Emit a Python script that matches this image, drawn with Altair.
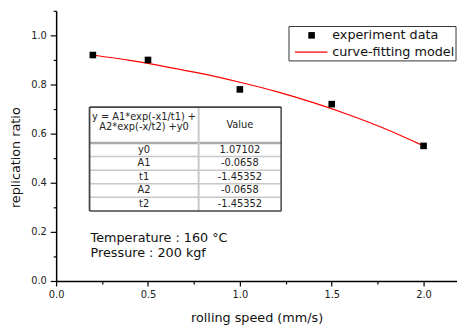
import altair as alt
import pandas as pd

FONT = "DejaVu Sans"

# experiment data
speed = [0.2, 0.5, 1.0, 1.5, 2.0]
ratio = [0.92, 0.90, 0.78, 0.72, 0.55]

# curve-fitting model
fit_x = [0.2, 0.4, 0.6, 0.8, 1.0, 1.2, 1.4, 1.6, 1.8, 2.0]
fit_y = [0.920, 0.898, 0.872, 0.843, 0.809, 0.771, 0.726, 0.675, 0.617, 0.550]

# parameter table
tbl_header = ["y = A1*exp(-x1/t1) +", "A2*exp(-x/t2) +y0"]
tbl_names = ["y0", "A1", "t1", "A2", "t2"]
tbl_values = ["1.07102", "-0.0658", "-1.45352", "-0.0658", "-1.45352"]

legend_labels = ["experiment data", "curve-fitting model"]
notes = ["Temperature : 160 \u00b0C", "Pressure : 200 kgf"]

W, H = 408, 275

xscale = alt.Scale(domain=[0, 2.182], nice=False, zero=False)
yscale = alt.Scale(domain=[0, 1.1], nice=False, zero=False)

xaxis = alt.Axis(
    values=[0, 0.25, 0.5, 0.75, 1.0, 1.25, 1.5, 1.75, 2.0],
    labelExpr="round(datum.value*4) % 2 == 0 ? format(datum.value, '.1f') : ''",
    tickSize={"condition": {"test": "round(datum.value*4) % 2 == 1", "value": 3}, "value": 5},
    labelFlush=False, labelOverlap=False, grid=False,
    domainColor="black", domainWidth=1.5, tickColor="black", tickWidth=1.2,
    labelFont=FONT, labelFontSize=10, labelColor="#222", labelPadding=4,
    titleFont=FONT, titleFontSize=13, titleFontWeight="normal", titleColor="#111",
    titleY=37, titleBaseline="middle",
)
yaxis = alt.Axis(
    values=[0, 0.1, 0.2, 0.3, 0.4, 0.5, 0.6, 0.7, 0.8, 0.9, 1.0, 1.1],
    labelExpr="round(datum.value*10) % 2 == 0 ? format(datum.value, '.1f') : ''",
    tickSize={"condition": {"test": "round(datum.value*10) % 2 == 1", "value": 3}, "value": 6},
    labelFlush=False, labelOverlap=False, grid=False,
    domainColor="black", domainWidth=1.5, tickColor="black", tickWidth=1.2,
    labelFont=FONT, labelFontSize=10, labelColor="#222", labelPadding=4,
    titleFont=FONT, titleFontSize=13, titleFontWeight="normal", titleColor="#111",
    titleX=-41, titleY=149, titleBaseline="middle",
)


def X(field):
    return alt.X(field, type="quantitative", scale=xscale, axis=xaxis, title="rolling speed (mm/s)")


def Y(field):
    return alt.Y(field, type="quantitative", scale=yscale, axis=yaxis, title="replication ratio")


pts = pd.DataFrame({"x": speed, "y": ratio})
fit = pd.DataFrame({"x": fit_x, "y": fit_y})

curve = alt.Chart(fit).mark_line(color="#ff0000", strokeWidth=1.2, interpolate="monotone").encode(
    x=X("x"), y=Y("y"))
points = alt.Chart(pts).mark_square(color="black", size=45, opacity=1).encode(x=X("x"), y=Y("y"))

# ---- table (pixel layout inside plot area) ----
t_left, t_right, t_div, t_top, t_head = 34, 229, 145, 98, 134.5
t_bottom = 203.7
row_h = (t_bottom - t_head) / len(tbl_names)

rules = []
for i in range(1, len(tbl_names)):
    yy = t_head + i * row_h
    rules.append(dict(x=t_left, x2=t_right, y=yy, y2=yy, c="#c8c8c8", w=1.5))
rules.append(dict(x=t_left, x2=t_right, y=t_head, y2=t_head, c="#aaaaaa", w=2.5))
rules.append(dict(x=t_div, x2=t_div, y=t_top, y2=t_bottom, c="#c8c8c8", w=2))
rules.append(dict(x=t_left, x2=t_right, y=t_top, y2=t_top, c="#444444", w=1.8))
rules.append(dict(x=t_left, x2=t_right, y=t_bottom, y2=t_bottom, c="#444444", w=1.5))
rules.append(dict(x=t_left, x2=t_left, y=t_top, y2=t_bottom, c="#444444", w=1.8))
rules.append(dict(x=t_right, x2=t_right, y=t_top, y2=t_bottom, c="#444444", w=1.5))
rules_df = pd.DataFrame(rules)

tbl_bg = alt.Chart(pd.DataFrame({"a": [0]})).mark_rect(fill="white").encode(
    x=alt.value(t_left), x2=alt.value(t_right), y=alt.value(t_top), y2=alt.value(t_bottom))

tbl_rules = alt.Chart(rules_df).mark_rule().encode(
    x=alt.X("x:Q", scale=None, axis=None), x2="x2:Q",
    y=alt.Y("y:Q", scale=None, axis=None), y2="y2:Q",
    color=alt.Color("c:N", scale=None), strokeWidth=alt.StrokeWidth("w:Q", scale=None))

texts = []
c1 = (t_left + t_div) / 2
c2 = (t_div + t_right) / 2
texts.append(dict(x=c1, y=108, t=tbl_header[0]))
texts.append(dict(x=c1, y=118, t=tbl_header[1]))
texts.append(dict(x=c2, y=(t_top + t_head) / 2, t="Value"))
for i, (n, v) in enumerate(zip(tbl_names, tbl_values)):
    yy = t_head + (i + 0.5) * row_h
    texts.append(dict(x=c1, y=yy, t=n))
    texts.append(dict(x=c2, y=yy, t=v))
tbl_text = alt.Chart(pd.DataFrame(texts)).mark_text(
    font=FONT, fontSize=10, color="#222", align="center", baseline="middle").encode(
    x=alt.X("x:Q", scale=None, axis=None), y=alt.Y("y:Q", scale=None, axis=None), text="t:N")

# ---- annotations ----
note_df = pd.DataFrame({"t": notes, "y": [231, 247]})
note_text = alt.Chart(note_df).mark_text(
    font=FONT, fontSize=13, color="#111", align="left", baseline="middle").encode(
    x=alt.value(35), y=alt.Y("y:Q", scale=None, axis=None), text="t:N")

# ---- legend ----
leg_box = alt.Chart(pd.DataFrame({"a": [0]})).mark_rect(
    fill="white", stroke="#333", strokeWidth=1).encode(
    x=alt.value(237), x2=alt.value(407), y=alt.value(16), y2=alt.value(51))
leg_sq = alt.Chart(pd.DataFrame({"a": [0]})).mark_square(color="black", size=45, opacity=1).encode(
    x=alt.value(260), y=alt.value(25))
leg_line = alt.Chart(pd.DataFrame({"a": [0]})).mark_rule(color="#ff0000", strokeWidth=1.2).encode(
    x=alt.value(243), x2=alt.value(276), y=alt.value(42))
leg_df = pd.DataFrame({"t": legend_labels, "y": [25, 42]})
leg_text = alt.Chart(leg_df).mark_text(
    font=FONT, fontSize=13, color="#111", align="left", baseline="middle").encode(
    x=alt.value(281), y=alt.Y("y:Q", scale=None, axis=None), text="t:N")

chart = alt.layer(
    curve, points, tbl_bg, tbl_rules, tbl_text, note_text,
    leg_box, leg_sq, leg_line, leg_text,
).properties(
    width=W, height=H,
    autosize=alt.AutoSizeParams(type="none"),
    padding={"left": 49, "top": 0, "right": 0, "bottom": 46},
    background="white",
).configure_view(stroke=None)

chart.save("out.html", embed_options={"renderer": "svg", "actions": False})
